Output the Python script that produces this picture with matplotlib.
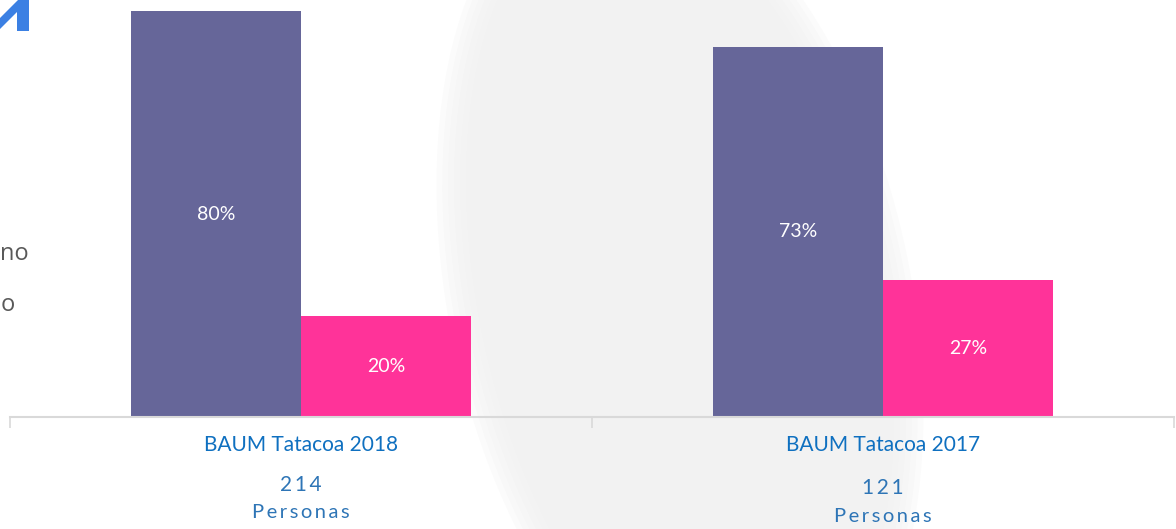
import numpy as np
import matplotlib
matplotlib.use("Agg")
import matplotlib.pyplot as plt
from matplotlib.patches import Ellipse, Polygon

# data
categories = ['BAUM Tatacoa 2018', 'BAUM Tatacoa 2017']
people = ['214', '121']
series_a = [80, 73]   # purple
series_b = [20, 27]   # pink
legend_bits = ['no', 'o']  # legend cut off at the left edge

purple = '#666699'
pink = '#ff3399'
label_blue = '#0f70c0'
count_blue = '#2e75b6'
thin = '\u2009'

W, H = 1176, 529
fig = plt.figure(figsize=(W / 100, H / 100), dpi=100)
fig.patch.set_facecolor('white')
ax = fig.add_axes([10 / W, 112 / H, 1164 / W, 417 / H])
ax.patch.set_facecolor('none')

# soft grey blob in the background
for k in range(7):
    e = Ellipse((6.8, 2.3), 3.9 + k * 0.12, 8.0 + k * 0.12, angle=12,
                transform=fig.dpi_scale_trans, facecolor='#f2f2f2',
                edgecolor='none', alpha=0.3, zorder=0, clip_on=False)
    ax.add_artist(e)

x = np.arange(len(categories))
w = 0.292
b1 = ax.bar(x - w / 2, series_a, width=w, color=purple, zorder=2)
b2 = ax.bar(x + w / 2, series_b, width=w, color=pink, zorder=2)
for bars, vals in ((b1, series_a), (b2, series_b)):
    for r, v in zip(bars, vals):
        ax.text(r.get_x() + r.get_width() / 2, v / 2, f'{v}%', color='white',
                ha='center', va='center', fontsize=14, family='Lato', zorder=3)

ax.set_xlim(-0.5, 1.5)
ax.set_ylim(0, 82.2)
for s in ('top', 'right', 'left'):
    ax.spines[s].set_visible(False)
ax.spines['bottom'].set_color('#d9d9d9')
ax.spines['bottom'].set_linewidth(1.5)
ax.spines['bottom'].set_zorder(4)
ax.set_yticks([])
ax.set_xticks([-0.5, 0.5, 1.5])
ax.set_xticklabels([])
ax.tick_params(axis='x', which='major', length=8, color='#d9d9d9', width=1.2)
ax.set_xticks(x, minor=True)
ax.set_xticklabels(categories, minor=True, color=label_blue, fontsize=15, family='Lato')
ax.tick_params(axis='x', which='minor', length=0, pad=13)

# counts under each category
tr = ax.get_xaxis_transform()
for i, p in enumerate(people):
    dy = 3 * i / 417
    ax.text(x[i], -68 / 417 - dy, thin.join(p), transform=tr, ha='center', va='center',
            color=count_blue, fontsize=15, family=['Lato', 'DejaVu Sans'])
    ax.text(x[i], -96 / 417 - dy, thin.join('Personas'), transform=tr, ha='center',
            va='center', color=count_blue, fontsize=14.5, family=['Lato', 'DejaVu Sans'])

# legend remnants on the left
fig.text(0.5 / W, 1 - 254 / H, legend_bits[0], ha='left', va='center',
         color='#595959', fontsize=17, family='Open Sans')
fig.text(0.5 / W, 1 - 305 / H, legend_bits[1], ha='left', va='center',
         color='#595959', fontsize=17, family='Open Sans')

# arrow icon corner
pts = [(0, 18), (18, 0), (29, 0), (29, 31), (17, 31), (17, 12), (0, 29)]
arrow = Polygon([(px / W, 1 - py / H) for px, py in pts], closed=True,
                transform=fig.transFigure, facecolor='#3b80e3', edgecolor='none')
fig.patches.append(arrow)

fig.savefig('out.png', dpi=100, facecolor='white')
